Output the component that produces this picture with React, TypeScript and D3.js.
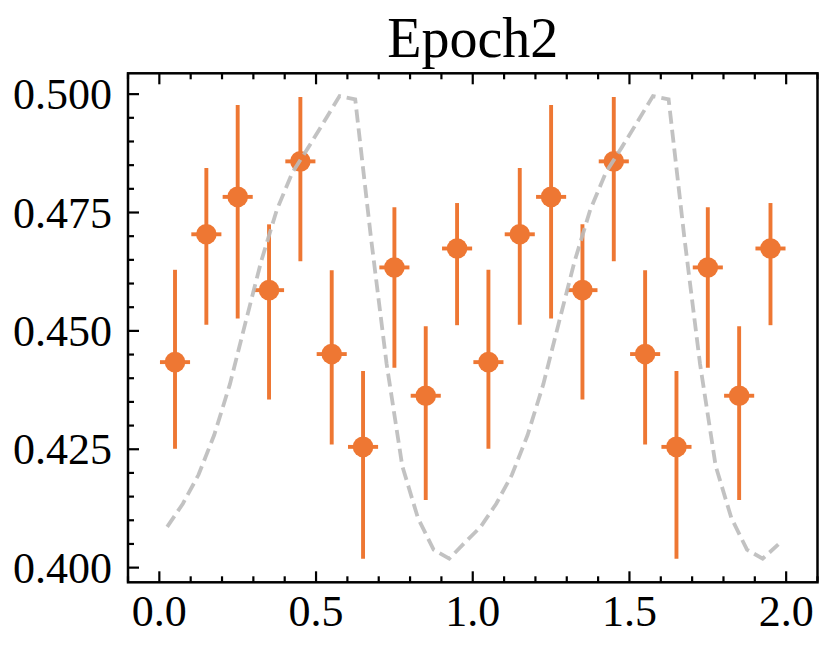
import React, { useEffect, useRef } from 'react';
import * as d3 from 'd3';

// phase bins (two cycles)
const xCenters = [
  0.05, 0.15, 0.25, 0.35, 0.45, 0.55, 0.65, 0.75, 0.85, 0.95,
  1.05, 1.15, 1.25, 1.35, 1.45, 1.55, 1.65, 1.75, 1.85, 1.95,
];
const yValues = [
  0.4434, 0.4704, 0.4783, 0.4586, 0.4858, 0.4451, 0.4255, 0.4634, 0.4363, 0.4674,
  0.4434, 0.4704, 0.4783, 0.4586, 0.4858, 0.4451, 0.4255, 0.4634, 0.4363, 0.4674,
];
const errUpper = [
  0.0195, 0.0140, 0.0194, 0.0139, 0.0136, 0.0177, 0.0160, 0.0127, 0.0147, 0.0096,
  0.0195, 0.0140, 0.0194, 0.0139, 0.0136, 0.0177, 0.0160, 0.0127, 0.0147, 0.0096,
];
const errLower = [
  0.0183, 0.0191, 0.0257, 0.0231, 0.0211, 0.0191, 0.0236, 0.0212, 0.0220, 0.0162,
  0.0183, 0.0191, 0.0257, 0.0231, 0.0211, 0.0191, 0.0236, 0.0212, 0.0220, 0.0162,
];
const xErr = 0.048;

// model curve
const modelX = [
  0.025, 0.075, 0.125, 0.175, 0.225, 0.275, 0.325, 0.375, 0.425, 0.475,
  0.525, 0.575, 0.625, 0.675, 0.725, 0.775, 0.825, 0.875, 0.925, 0.975,
  1.025, 1.075, 1.125, 1.175, 1.225, 1.275, 1.325, 1.375, 1.425, 1.475,
  1.525, 1.575, 1.625, 1.675, 1.725, 1.775, 1.825, 1.875, 1.925, 1.975,
];
const modelY = [
  0.4086, 0.4135, 0.4196, 0.4280, 0.4387, 0.4518, 0.4647, 0.4756, 0.4835, 0.4887,
  0.4941, 0.4996, 0.4989, 0.4698, 0.4431, 0.4215, 0.4105, 0.4038, 0.4019, 0.4053,
  0.4086, 0.4135, 0.4196, 0.4280, 0.4387, 0.4518, 0.4647, 0.4756, 0.4835, 0.4887,
  0.4941, 0.4996, 0.4989, 0.4698, 0.4431, 0.4215, 0.4105, 0.4038, 0.4019, 0.4049,
];

const xMajorTicks = [0.0, 0.5, 1.0, 1.5, 2.0];
const yMajorTicks = [0.400, 0.425, 0.450, 0.475, 0.500];
const title = 'Epoch2';

const App: React.FC = () => {
  const svgRef = useRef<SVGSVGElement>(null);

  useEffect(() => {
    if (!svgRef.current) return;
    const svg = d3.select(svgRef.current);
    svg.selectAll('*').remove();

    const left = 128, right = 817.5, top = 73.3, bottom = 582.3;
    const font = "'Liberation Serif', 'Times New Roman', serif";
    const orange = '#EE7733';

    const x = d3.scaleLinear().domain([-0.1, 2.1]).range([left, right]);
    const y = d3.scaleLinear().domain([0.3969, 0.5044]).range([bottom, top]);

    const plot = svg.append('g');

    // error bars
    const pts = xCenters.map((xc, i) => ({ xc, yc: yValues[i], lo: errLower[i], hi: errUpper[i] }));
    plot.selectAll('line.v')
      .data(pts)
      .enter()
      .append('line')
      .attr('x1', d => x(d.xc)).attr('x2', d => x(d.xc))
      .attr('y1', d => y(d.yc - d.lo)).attr('y2', d => y(d.yc + d.hi))
      .attr('stroke', orange).attr('stroke-width', 3.9);
    plot.selectAll('line.h')
      .data(pts)
      .enter()
      .append('line')
      .attr('x1', d => x(d.xc - xErr)).attr('x2', d => x(d.xc + xErr))
      .attr('y1', d => y(d.yc)).attr('y2', d => y(d.yc))
      .attr('stroke', orange).attr('stroke-width', 3.9);
    plot.selectAll('circle')
      .data(pts)
      .enter()
      .append('circle')
      .attr('cx', d => x(d.xc)).attr('cy', d => y(d.yc))
      .attr('r', 10.3)
      .attr('fill', orange);

    // dashed model line
    const line = d3.line<number>()
      .x((_, i) => x(modelX[i]))
      .y(d => y(d));
    plot.append('path')
      .datum(modelY)
      .attr('d', line)
      .attr('fill', 'none')
      .attr('stroke', '#BBBBBB')
      .attr('stroke-width', 3.8)
      .attr('stroke-dasharray', '13,6')
      .attr('opacity', 0.9);

    // ticks (inward, bottom / top / left)
    const axes = svg.append('g').attr('stroke', '#000').attr('stroke-width', 2.2);
    const xMinor = d3.range(-1, 22).map(k => k / 10)
      .filter(v => !xMajorTicks.some(m => Math.abs(m - v) < 1e-6));
    const yMinor = d3.range(80, 101).map(k => k * 0.005)
      .filter(v => !yMajorTicks.some(m => Math.abs(m - v) < 1e-6));

    const addXTicks = (vals: number[], len: number) => {
      vals.forEach(v => {
        axes.append('line').attr('x1', x(v)).attr('x2', x(v)).attr('y1', bottom).attr('y2', bottom - len);
        axes.append('line').attr('x1', x(v)).attr('x2', x(v)).attr('y1', top).attr('y2', top + len);
      });
    };
    addXTicks(xMajorTicks, 11);
    addXTicks(xMinor, 6);
    yMajorTicks.forEach(v => {
      axes.append('line').attr('x1', left).attr('x2', left + 11).attr('y1', y(v)).attr('y2', y(v));
    });
    yMinor.forEach(v => {
      axes.append('line').attr('x1', left).attr('x2', left + 6).attr('y1', y(v)).attr('y2', y(v));
    });

    // frame
    svg.append('rect')
      .attr('x', left).attr('y', top)
      .attr('width', right - left).attr('height', bottom - top)
      .attr('fill', 'none').attr('stroke', '#000').attr('stroke-width', 2.5);

    // tick labels
    svg.append('g').selectAll('text')
      .data(xMajorTicks)
      .enter()
      .append('text')
      .attr('x', d => x(d))
      .attr('y', 626)
      .attr('text-anchor', 'middle')
      .style('font-family', font)
      .style('font-size', '44px')
      .text(d => d3.format('.1f')(d));
    svg.append('g').selectAll('text')
      .data(yMajorTicks)
      .enter()
      .append('text')
      .attr('x', 112)
      .attr('y', d => y(d) + 15)
      .attr('text-anchor', 'end')
      .style('font-family', font)
      .style('font-size', '44px')
      .text(d => d3.format('.3f')(d));

    svg.append('text')
      .attr('x', (left + right) / 2)
      .attr('y', 57)
      .attr('text-anchor', 'middle')
      .style('font-family', font)
      .style('font-size', '56px')
      .text(title);
  }, []);

  return (
    <div style={{ position: 'absolute', left: 0, top: 0 }}>
      <svg ref={svgRef} width={831} height={649} style={{ display: 'block', background: '#fff' }} />
    </div>
  );
};

export default App;
